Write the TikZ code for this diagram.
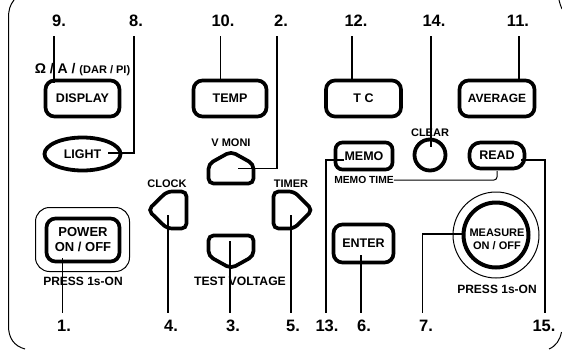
\documentclass[tikz,border=0pt]{standalone}
\usepackage{fontspec}
\usetikzlibrary{shapes.geometric}
\setmainfont{Liberation Sans}
\newcommand{\fsz}[1]{\fontsize{#1}{#1}\selectfont\bfseries}
\tikzset{
  frameline/.style={line width=1pt,black},
  btn/.style={draw=black,line width=3.7pt,rounded corners=9pt,fill=white,align=center,inner sep=0pt,font=\fsz{12.5}},
  num/.style={inner sep=0pt,font=\fsz{16.5}},
  lab/.style={inner sep=0pt,align=center,font=\fsz{11}},
  lead/.style={draw=black,line width=1.9pt},
  thin lead/.style={draw=black,line width=1pt},
  arrowkey/.style={draw=black,line width=3.7pt,rounded corners=5pt,fill=white}
}
\begin{document}
\begin{tikzpicture}[x=1pt,y=-1pt]
\useasboundingbox (0,0) rectangle (562,349);
% frame
\draw[frameline] (14,0) .. controls (10,5) and (8.5,10) .. (8.5,18) -- (8.5,326) .. controls (8.5,338) and (14,346) .. (25,349);
\draw[frameline] (559,0) .. controls (560,4) and (561,7) .. (562,9);
\draw[frameline] (561.5,332) .. controls (560,340) and (556,346) .. (549,349);
% rounded buttons
\node[btn,minimum width=74pt,minimum height=36pt] (display) at (82.5,98.5) {DISPLAY};
\node[btn,minimum width=73pt,minimum height=36pt] (temp) at (230,98.5) {TEMP};
\node[btn,minimum width=75pt,minimum height=36pt] (tc) at (363.5,98.5) {T C};
\node[btn,minimum width=75pt,minimum height=36pt,font=\fsz{12}] (average) at (497,98.5) {AVERAGE};
\node[draw=black,line width=3.8pt,ellipse,fill=white,inner sep=0pt,minimum width=76pt,minimum height=33pt,font=\fsz{12.5}] (light) at (82.5,154) {LIGHT};
% arrow keys
\draw[arrowkey] (208.5,183.5) -- (208.5,164) -- (231,151.5) -- (253.5,164) -- (253.5,183.5) -- cycle;
\draw[arrowkey] (186.5,191.5) -- (167,191.5) -- (148,210) -- (167,228.5) -- (186.5,228.5) -- cycle;
\draw[arrowkey] (208.5,235.5) -- (208.5,256) -- (231,268.5) -- (253.5,256) -- (253.5,235.5) -- cycle;
\draw[arrowkey] (273.5,191.5) -- (294,191.5) -- (312.5,210) -- (294,228.5) -- (273.5,228.5) -- cycle;
% power
\draw[frameline,rounded corners=14pt] (35.5,207.5) rectangle (129.5,271.5);
\draw[draw=black,line width=3.7pt,rounded corners=9pt] (46.5,218.5) rectangle (119.5,261.5);
\node[lab,font=\fsz{13}] (power) at (83,240) {POWER\\[2pt]ON / OFF};
% memo row
\node[btn,rounded corners=7pt,minimum width=57pt,minimum height=27pt] (memo) at (364,156) {MEMO};
\node[draw=black,line width=3.8pt,circle,inner sep=0pt,minimum size=31pt] (clear) at (430,155) {};
\node[btn,rounded corners=11pt,minimum width=55pt,minimum height=26pt] (read) at (497,155.5) {READ};
\node[btn,minimum width=60pt,minimum height=38pt] (enter) at (363.5,243.5) {ENTER};
% measure
\node[draw=black,line width=1pt,circle,inner sep=0pt,minimum size=86pt] (measout) at (496,235) {};
\node[draw=black,line width=4pt,circle,inner sep=0pt,minimum size=65pt] (meas) at (496,235) {};
\node[lab,font=\fsz{11}] (meastxt) at (497,239) {MEASURE\\[2pt]ON / OFF};
% texts
\node[lab] (om) at (82.5,70) {\fsz{14}Ω / A / \fsz{11}(DAR / PI)};
\node[lab] (vmoni) at (231,143) {V MONI};
\node[lab] (clock) at (167,184) {CLOCK};
\node[lab] (timer) at (291,184) {TIMER};
\node[lab,font=\fsz{12.2}] (testv) at (240,281) {TEST VOLTAGE};
\node[lab,font=\fsz{12}] (press1) at (83,281) {PRESS 1s-ON};
\node[lab,font=\fsz{12}] (press2) at (497,289) {PRESS 1s-ON};
\node[lab] (clrtxt) at (430,133) {CLEAR};
\node[lab,font=\fsz{10.3}] (memotime) at (364,180) {MEMO TIME};
% numbers
\node[num] (n9) at (59,21) {9.};
\node[num] (n8) at (136,21) {8.};
\node[num] (n10) at (223,21) {10.};
\node[num] (n2) at (281,21) {2.};
\node[num] (n12) at (356,21) {12.};
\node[num] (n14) at (434,21) {14.};
\node[num] (n11) at (518,21) {11.};
\node[num] (n1) at (64,326) {1.};
\node[num] (n4) at (171,326) {4.};
\node[num] (n3) at (233,326) {3.};
\node[num] (n5) at (293,326) {5.};
\node[num] (n13) at (327,326) {13.};
\node[num] (n6) at (364,326) {6.};
\node[num] (n7) at (426,326) {7.};
\node[num] (n15) at (544,326) {15.};
% free ends
\coordinate (e9) at (54,83);
\coordinate (e8t) at (134,36);
\coordinate (e2t) at (277,36);
\coordinate (e10) at (220.5,82);
\coordinate (e12) at (352,82);
\coordinate (e14) at (431,147);
\coordinate (e11) at (519,82);
\coordinate (e2) at (238,168.5);
\coordinate (e8) at (108,153);
\coordinate (e1) at (62.5,258);
\coordinate (e4) at (168,215);
\coordinate (e3) at (230,241);
\coordinate (e5) at (291,215);
\coordinate (e6) at (361,255);
\coordinate (e7) at (464,234);
\coordinate (e13) at (344,160);
\coordinate (e15) at (521,160);
\coordinate (e16) at (497,171);
% leaders
\draw[lead] (e9 |- e8t) -- (e9);
\draw[lead] (e8t) |- (e8);
\draw[lead] (e10 |- e8t) -- (e10);
\draw[lead] (e2t) |- (e2);
\draw[lead] (e12 |- e8t) -- (e12);
\draw[lead] (e14 |- e8t) -- (e14);
\draw[lead] (e11 |- e8t) -- (e11);
\coordinate (bot) at (0,313);
\draw[lead] (e1) -- (e1 |- bot);
\draw[lead] (e4) -- (e4 |- bot);
\draw[lead] (e3) -- (e3 |- bot);
\draw[lead] (e5) -- (e5 |- bot);
\draw[lead] (e6) -- (e6 |- bot);
\draw[lead] (e7) -| (422.5,313);
\draw[lead] (e13) -| (326,313);
\draw[lead] (e15) -| (545,313);
\draw[thin lead,rounded corners=3pt] (memotime.east) -- (497,180) -- (e16);
\end{tikzpicture}
\end{document}
